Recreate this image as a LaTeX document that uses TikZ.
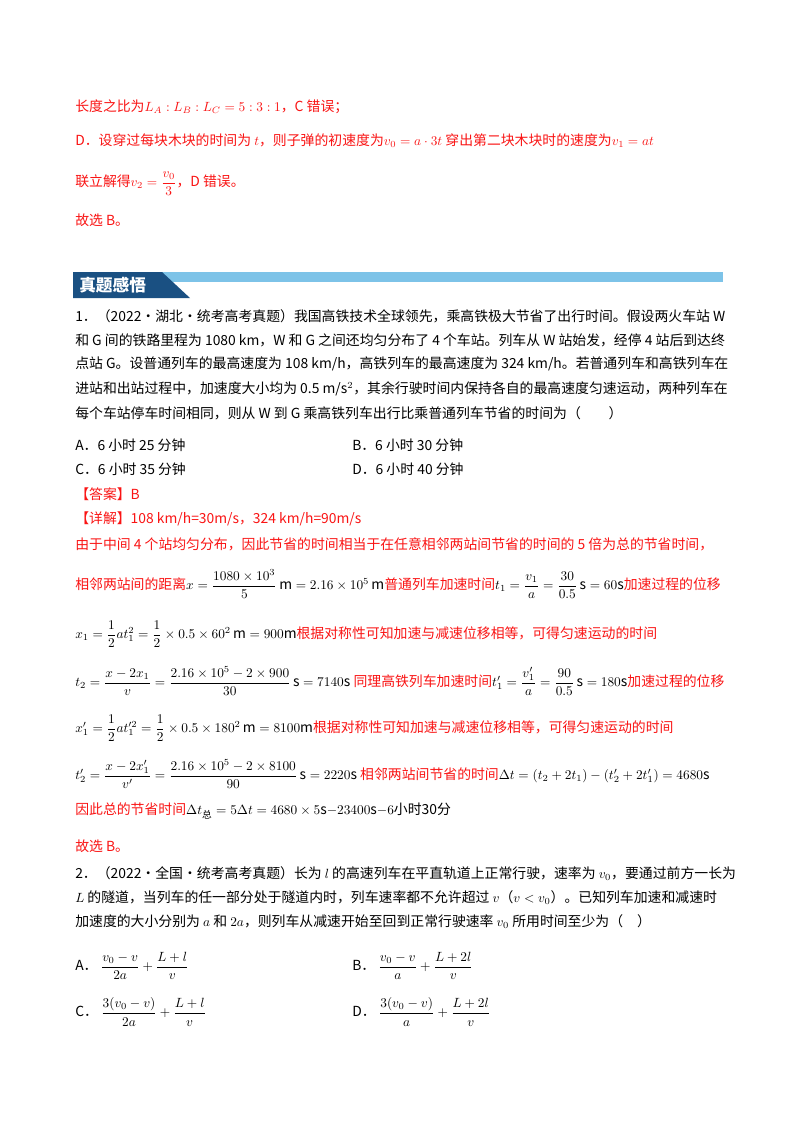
\documentclass[tikz,border=0pt]{standalone}
\usepackage{amsmath}
\usepackage{fontspec}
\setmainfont{Noto Sans CJK SC}
\definecolor{rd}{RGB}{250,20,20}
\definecolor{dblue}{RGB}{26,80,130}
\definecolor{lblue}{RGB}{125,195,232}
\newcommand{\fs}{\fontsize{10.4}{12}\selectfont}
\begin{document}
\begin{tikzpicture}[x=0.75pt,y=-0.75pt,
  t/.style={anchor=west,inner sep=0pt,font=\fs},
  r/.style={t,text=rd}]
\useasboundingbox (0,0) rectangle (800,1132);
\fill[white] (0,0) rectangle (800,1132);
\node[r] (l1) at (75,107) {长度之比为$L_A:L_B:L_C=5:3:1$，C 错误；};
\node[r] (l2) at (75,141) {D．设穿过每块木块的时间为 $t$，则子弹的初速度为$v_0=a\cdot3t$ 穿出第二块木块时的速度为$v_1=at$};
\node[r] (l3) at (75,184) {联立解得$v_2=\dfrac{v_0}{3}$，D 错误。};
\node[r] (l4) at (75,220) {故选 B。};
% banner
\fill[lblue] (75,272) rectangle (723,282);
\fill[dblue] (73,272) -- (162,272) -- (190,298) -- (73,298) -- cycle;
\node[t,text=white,font=\fontsize{12.5}{14}\selectfont\bfseries] (ban) at (79,285) {真题感悟};
% problem 1
\node[t] (p1) at (75,316) {1．（2022·湖北·统考高考真题）我国高铁技术全球领先，乘高铁极大节省了出行时间。假设两火车站 W};
\node[t] (p2) at (75,340) {和 G 间的铁路里程为 1080 km，W 和 G 之间还均匀分布了 4 个车站。列车从 W 站始发，经停 4 站后到达终};
\node[t] (p3) at (75,364) {点站 G。设普通列车的最高速度为 108 km/h，高铁列车的最高速度为 324 km/h。若普通列车和高铁列车在};
\node[t] (p4) at (75,389) {进站和出站过程中，加速度大小均为 0.5 m/s$^2$，其余行驶时间内保持各自的最高速度匀速运动，两种列车在};
\node[t] (p5) at (75,413) {每个车站停车时间相同，则从 W 到 G 乘高铁列车出行比乘普通列车节省的时间为（　　）};
\node[t] (oA) at (75,445) {A．6 小时 25 分钟};
\node[t] (oB) at (352,445) {B．6 小时 30 分钟};
\node[t] (oC) at (75,469) {C．6 小时 35 分钟};
\node[t] (oD) at (352,469) {D．6 小时 40 分钟};
\node[r] (ans) at (75,494) {【答案】B};
\node[r] (det) at (75,519) {【详解】108 km/h=30m/s，324 km/h=90m/s};
\node[r] (s1) at (75,544) {由于中间 4 个站均匀分布，因此节省的时间相当于在任意相邻两站间节省的时间的 5 倍为总的节省时间，};
\node[r] (s2) at (75,584) {相邻两站间的距离\textcolor{black}{$x=\dfrac{1080\times10^3}{5}\,\mathrm{m}=2.16\times10^5\,\mathrm{m}$}普通列车加速时间\textcolor{black}{$t_1=\dfrac{v_1}{a}=\dfrac{30}{0.5}\,\mathrm{s}=60\mathrm{s}$}加速过程的位移};
\node[r] (s3) at (75,634) {\textcolor{black}{$x_1=\dfrac12at_1^2=\dfrac12\times0.5\times60^2\,\mathrm{m}=900\mathrm{m}$}根据对称性可知加速与减速位移相等，可得匀速运动的时间};
\node[r] (s4) at (75,681) {\textcolor{black}{$t_2=\dfrac{x-2x_1}{v}=\dfrac{2.16\times10^5-2\times900}{30}\,\mathrm{s}=7140\mathrm{s}$} 同理高铁列车加速时间\textcolor{black}{$t_1'=\dfrac{v_1'}{a}=\dfrac{90}{0.5}\,\mathrm{s}=180\mathrm{s}$}加速过程的位移};
\node[r] (s5) at (75,728) {\textcolor{black}{$x_1'=\dfrac12at_1'^2=\dfrac12\times0.5\times180^2\,\mathrm{m}=8100\mathrm{m}$}根据对称性可知加速与减速位移相等，可得匀速运动的时间};
\node[r] (s6) at (75,774) {\textcolor{black}{$t_2'=\dfrac{x-2x_1'}{v'}=\dfrac{2.16\times10^5-2\times8100}{90}\,\mathrm{s}=2220\mathrm{s}$} 相邻两站间节省的时间\textcolor{black}{$\Delta t=(t_2+2t_1)-(t_2'+2t_1')=4680\mathrm{s}$}};
\node[r] (s7) at (75,811) {因此总的节省时间\textcolor{black}{$\Delta t_{\text{总}}=5\Delta t=4680\times5\mathrm{s}{-}23400\mathrm{s}{-}6$小时30分}};
\node[r] (s8) at (75,846) {故选 B。};
% problem 2
\node[t] (q1) at (75,874) {2．（2022·全国·统考高考真题）长为 $l$ 的高速列车在平直轨道上正常行驶，速率为 $v_0$，要通过前方一长为};
\node[t] (q2) at (75,898) {$L$ 的隧道，当列车的任一部分处于隧道内时，列车速率都不允许超过 $v$（$v<v_0$）。已知列车加速和减速时};
\node[t] (q3) at (75,922) {加速度的大小分别为 $a$ 和 $2a$，则列车从减速开始至回到正常行驶速率 $v_0$ 所用时间至少为（　）};
\node[t] (qA) at (75,966) {A．\ $\dfrac{v_0-v}{2a}+\dfrac{L+l}{v}$};
\node[t] (qB) at (352,966) {B．\ $\dfrac{v_0-v}{a}+\dfrac{L+2l}{v}$};
\node[t] (qC) at (75,1012) {C．\ $\dfrac{3(v_0-v)}{2a}+\dfrac{L+l}{v}$};
\node[t] (qD) at (352,1012) {D．\ $\dfrac{3(v_0-v)}{a}+\dfrac{L+2l}{v}$};
\end{tikzpicture}
\end{document}
